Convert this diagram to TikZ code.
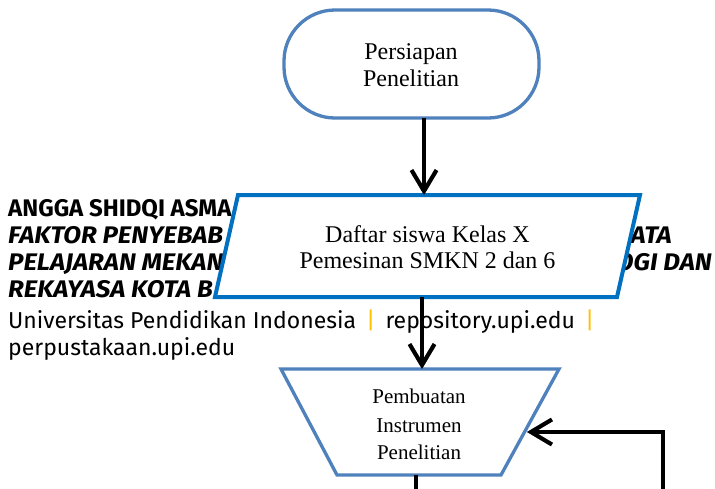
\documentclass[tikz,border=0pt]{standalone}
\usepackage{fontspec}
\setmainfont{Liberation Serif}
\newfontfamily\wmfont{Fira Sans}
\newfontfamily\wmbifont[FakeStretch=1.08]{Fira Sans}
\usetikzlibrary{arrows.meta}
\definecolor{termblue}{HTML}{4F81BD}
\definecolor{parablue}{HTML}{0070C0}
\definecolor{wmyellow}{HTML}{FFC000}
\begin{document}
\begin{tikzpicture}[x=1pt,y=-1pt,
  wm/.style={anchor=base west, inner sep=0pt, text=black},
  wmreg/.style={wm, font=\wmfont\fontsize{23}{27}\selectfont},
  wmbold/.style={wm, font=\wmfont\bfseries\fontsize{24}{27}\selectfont},
  wmbi/.style={wm, font=\wmbifont\bfseries\itshape\fontsize{24}{27}\selectfont},
  lblbig/.style={anchor=base, inner sep=0pt, font=\fontsize{24}{27}\selectfont},
  lblsmall/.style={anchor=base, inner sep=0pt, font=\fontsize{21}{28}\selectfont},
  flow/.style={line width=4pt, black, line join=miter, -{Straight Barb[length=21pt,width=25pt]}},
  flowshadow/.style={flow, black!45, shift={(0.5,2.5)}},
  plain/.style={line width=4pt, black},
  plainshadow/.style={plain, black!45, shift={(0.5,2.5)}}
]
\useasboundingbox[fill=white] (0,0) rectangle (715,488);

% watermark text
\node[wmbold] (w1) at (8,216) {ANGGA SHIDQI ASMA};
\node[wmbi] (w2) at (8,243) {FAKTOR PENYEBAB};
\node[wmbi, anchor=base east] (w2r) at (672,243) {ATA};
\node[wmbi] (w3) at (8,270) {PELAJARAN MEKAN};
\node[wmbi, anchor=base east] (w3r) at (712,270) {OGI DAN};
\node[wmbi] (w4) at (8,297) {REKAYASA KOTA B};
\node[wmreg] (w5) at (8,328) {Universitas Pendidikan Indonesia\hspace{4pt} {\color{wmyellow}|}\hspace{4pt} repository.upi.edu\hspace{4pt} {\color{wmyellow}|}};
\node[wmreg] (w6) at (8,355) {perpustakaan.upi.edu};

% terminator
\node[draw=termblue, line width=3.3pt, fill=white, rounded corners=51pt,
      minimum width=255pt, minimum height=108pt, inner sep=0pt] (start) at (411.5,64) {};
\node[lblbig] (t1) at (411,59) {Persiapan};
\node[lblbig] (t2) at (411,86) {Penelitian};

% parallelogram
\draw[parablue, line width=4pt, fill=white, line join=miter]
  (215,297) -- (238,195) -- (640,195) -- (617,297) -- cycle;
\node[lblbig] (d1) at (427.5,242) {Daftar siswa Kelas X};
\node[lblbig] (d2) at (427.5,268) {Pemesinan SMKN 2 dan 6};
\coordinate (paraN) at (424,195);
\coordinate (paraS) at (422,297);

% trapezoid
\draw[termblue, line width=3.3pt, fill=white, line join=miter]
  (281,369) -- (559,369) -- (501,475) -- (337,475) -- cycle;
\node[lblsmall] (p1) at (419,403) {Pembuatan};
\node[lblsmall] (p2) at (419,432) {Instrumen};
\node[lblsmall] (p3) at (419,459) {Penelitian};
\coordinate (trapN) at (422,369);
\coordinate (trapS) at (416,475);
\coordinate (trapE) at (527,432);
\coordinate (loopS) at (663,492);
\coordinate (outS) at (416,492);
\coordinate (startS) at (424,118);

% connectors
\draw[flowshadow] (startS) -- (paraN);
\draw[flow] (startS) -- (paraN);
\draw[flowshadow] (paraS) -- (trapN);
\draw[flow] (paraS) -- (trapN);
\draw[flowshadow] (loopS) |- (trapE);
\draw[flow] (loopS) |- (trapE);
\draw[plainshadow] (trapS) -- (outS);
\draw[plain] (trapS) -- (outS);
\end{tikzpicture}
\end{document}
